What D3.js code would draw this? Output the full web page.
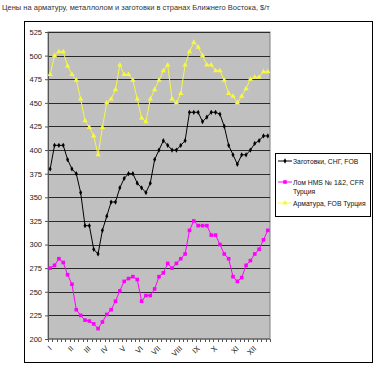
<!DOCTYPE html>
<html>
<head>
<meta charset="utf-8">
<script src="https://cdn.jsdelivr.net/npm/d3@7/dist/d3.min.js"></script>
<style>
  body { margin: 0; background: #fff; }
  text { font-family: "Liberation Sans", Arial, sans-serif; }
</style>
</head>
<body>
<div id="chart"></div>
<script>
// weekly points, month label on the first week of each month
var monthLabels = ["I","II","III","IV","V","VI","VII","VIII","IX","X","XI","XII"];
var monthStart = [0, 5, 9, 13, 17, 21, 25, 30, 34, 38, 43, 47];

var billets = [380,405,405,405,390,380,375,355,320,320,295,290,315,330,345,345,360,370,375,375,
	365,360,355,365,390,400,410,405,400,400,405,410,440,440,440,430,435,440,440,438,
	425,405,395,385,395,395,400,407,410,415,415];
var scrap = [275,278,285,281,268,258,231,225,220,219,216,211,218,226,231,240,251,261,264,266,
	263,240,246,246,253,266,270,280,275,280,285,290,315,325,320,320,320,310,310,300,
	290,285,266,261,265,278,283,290,295,305,315];
var rebar = [480,500,504,504,489,480,474,454,431,424,415,395,424,450,454,464,490,480,480,474,
	454,434,430,454,464,474,484,490,454,450,460,490,504,514,509,500,490,490,484,484,
	474,460,457,450,457,465,475,477,477,483,483];

var yTicks = [200,225,250,275,300,325,350,375,400,425,450,475,500,525];

var series = [
	{name: ["Заготовки, СНГ, FOB"], values: billets, color: "#000000", marker: "diamond"},
	{name: ["Лом HMS № 1&2, CFR", "Турция"], values: scrap, color: "#ff00ff", marker: "square"},
	{name: ["Арматура, FOB Турция"], values: rebar, color: "#f8f840", marker: "triangle"}
];

var W = 378, H = 365;
var plot = {left: 48, right: 270, top: 32, bottom: 339};

var svg = d3.select("#chart").append("svg")
	.attr("width", W)
	.attr("height", H);

svg.append("text")
	.attr("x", 2).attr("y", 10)
	.attr("font-size", "7.5px")
	.attr("fill", "#333")
	.text("Цены на арматуру, металлолом и заготовки в странах Ближнего Востока, $/т");

svg.append("rect")
	.attr("x", 24.5).attr("y", 21.5)
	.attr("width", 348).attr("height", 341)
	.attr("fill", "#fff")
	.attr("stroke", "#000");

var idx = d3.range(billets.length);
var x = d3.scaleBand().domain(idx).range([plot.left, plot.right]);
var y = d3.scaleLinear().domain([200, 525]).range([plot.bottom, plot.top]);

svg.append("rect")
	.attr("x", plot.left).attr("y", plot.top)
	.attr("width", plot.right - plot.left).attr("height", plot.bottom - plot.top)
	.attr("fill", "#c0c0c0")
	.attr("stroke", "#808080");

// horizontal grid
svg.append("g")
	.selectAll("line")
	.data(yTicks.slice(1))
	.enter().append("line")
	.attr("x1", plot.left).attr("x2", plot.right)
	.attr("y1", function(d) { return Math.round(y(d)) + 0.5; })
	.attr("y2", function(d) { return Math.round(y(d)) + 0.5; })
	.attr("stroke", "#2a2a2a")
	.attr("stroke-width", 1.2);

// y axis
var yAxis = svg.append("g")
	.attr("transform", "translate(" + plot.left + ",0)")
	.call(d3.axisLeft(y).tickValues(yTicks).tickSize(3).tickPadding(3));
yAxis.selectAll("text").attr("font-size", "7.5px").attr("fill", "#222")
	.style("font-family", "'Liberation Sans', Arial, sans-serif");
yAxis.selectAll("line, path").attr("stroke", "#555");

// x axis: ticks between categories, month labels
var xAxis = svg.append("g")
	.attr("transform", "translate(0," + plot.bottom + ")");
xAxis.append("line")
	.attr("x1", plot.left).attr("x2", plot.right)
	.attr("stroke", "#555");
xAxis.selectAll(".tick")
	.data(d3.range(billets.length + 1))
	.enter().append("line")
	.attr("class", "tick")
	.attr("x1", function(d) { return Math.round(plot.left + d * x.step()) + 0.5; })
	.attr("x2", function(d) { return Math.round(plot.left + d * x.step()) + 0.5; })
	.attr("y1", 0).attr("y2", 3)
	.attr("stroke", "#555");
xAxis.selectAll(".lbl")
	.data(monthStart)
	.enter().append("text")
	.attr("class", "lbl")
	.attr("font-size", "7.5px")
	.attr("fill", "#222")
	.attr("text-anchor", "end")
	.attr("transform", function(d) {
		return "translate(" + (x(d) + x.bandwidth() / 2 + 2) + ",10) rotate(-45)";
	})
	.text(function(d, i) { return monthLabels[i]; });

var line = d3.line()
	.x(function(d, i) { return x(i) + x.bandwidth() / 2; })
	.y(function(d) { return y(d); });

function marker(g, type, color, cx, cy) {
	if (type === "square") {
		g.append("rect").attr("x", cx - 1.8).attr("y", cy - 1.8)
			.attr("width", 3.6).attr("height", 3.6).attr("fill", color);
	} else if (type === "triangle") {
		g.append("path").attr("d", d3.symbol().type(d3.symbolTriangle).size(12)())
			.attr("transform", "translate(" + cx + "," + cy + ")").attr("fill", color);
	} else {
		g.append("path").attr("d", d3.symbol().type(d3.symbolDiamond).size(8)())
			.attr("transform", "translate(" + cx + "," + cy + ")").attr("fill", color);
	}
}

series.forEach(function(s) {
	var g = svg.append("g");
	g.append("path")
		.datum(s.values)
		.attr("fill", "none")
		.attr("stroke", s.color)
		.attr("stroke-width", 1)
		.attr("d", line);
	s.values.forEach(function(v, i) {
		marker(g, s.marker, s.color, x(i) + x.bandwidth() / 2, y(v));
	});
});

// legend
var lg = svg.append("g");
lg.append("rect")
	.attr("x", 275.5).attr("y", 153.5)
	.attr("width", 95).attr("height", 63)
	.attr("fill", "#fff")
	.attr("stroke", "#000");
var rowY = [161, 182, 203];
series.forEach(function(s, k) {
	var yy = rowY[k];
	lg.append("line")
		.attr("x1", 278).attr("x2", 292)
		.attr("y1", yy).attr("y2", yy)
		.attr("stroke", s.color);
	marker(lg, s.marker, s.color, 285, yy);
	s.name.forEach(function(t, j) {
		lg.append("text")
			.attr("x", 293).attr("y", yy + 3 + j * 9)
			.attr("font-size", "6.8px")
			.attr("fill", "#111")
			.text(t);
	});
});
</script>
</body>
</html>
